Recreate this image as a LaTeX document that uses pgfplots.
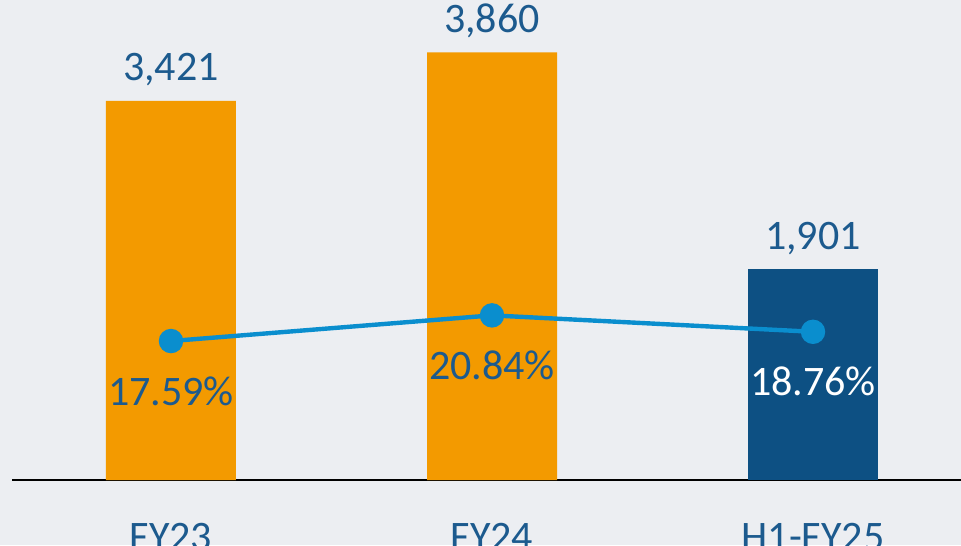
\documentclass[border=0pt]{standalone}
\usepackage{pgfplots}
\pgfplotsset{compat=1.18}
\usepackage{fontspec}
\setmainfont{Carlito}
\definecolor{barorange}{HTML}{F39A00}
\definecolor{barnavy}{HTML}{0D5083}
\definecolor{linecol}{HTML}{0A8ECE}
\definecolor{txtblue}{HTML}{1C5A8E}
\definecolor{bg}{HTML}{ECEEF2}
\begin{document}
\begin{tikzpicture}
\fill[bg] (-6pt,-32.5pt) rectangle (474.5pt,240pt);
\useasboundingbox (-6pt,-32.5pt) rectangle (474.5pt,240pt);
\clip (-6pt,-32.5pt) rectangle (474.5pt,240pt);
\begin{axis}[
  at={(0,0)}, anchor=south west,
  scale only axis, width=474.5pt, height=240pt,
  xmin=-0.4953, xmax=2.4611, ymin=0, ymax=4332,
  axis x line=bottom, axis y line=none,
  x axis line style={-, line width=1pt, black},
  xtick={0,1,2}, xticklabels={FY23,FY24,H1-FY25},
  major tick length=0pt,
  xticklabel style={anchor=base, yshift=-35pt, font=\fontsize{21}{25}\selectfont, text=txtblue},
  ybar, bar width=65pt, bar shift=0pt,
  /pgf/number format/assume math mode=true,
  /pgf/number format/1000 sep={,},
  nodes near coords,
  every node near coord/.append style={anchor=base, yshift=10pt, font=\fontsize{21}{25}\selectfont, text=txtblue},
  clip=false,
]
\addplot[fill=barorange, draw=none] coordinates {(0,3421) (1,3860)};
\addplot[fill=barnavy, draw=none] coordinates {(2,1901)};
\end{axis}
\begin{axis}[
  at={(0,0)}, anchor=south west,
  scale only axis, width=474.5pt, height=240pt,
  xmin=-0.4953, xmax=2.4611, ymin=0, ymax=60.76,
  hide axis, clip=false,
]
\addplot[linecol, line width=2.2pt, mark=*, mark size=5pt, mark options={fill=linecol, draw=linecol}] coordinates {(0,17.59) (1,20.84) (2,18.76)};
\node[anchor=base, text=txtblue, font=\fontsize{21}{25}\selectfont] at ([yshift=-32pt]axis cs:0,17.59) {17.59\%};
\node[anchor=base, text=txtblue, font=\fontsize{21}{25}\selectfont] at ([yshift=-32pt]axis cs:1,20.84) {20.84\%};
\node[anchor=base, text=white, font=\fontsize{21}{25}\selectfont] at ([yshift=-32pt]axis cs:2,18.76) {18.76\%};
\end{axis}
\end{tikzpicture}
\end{document}
